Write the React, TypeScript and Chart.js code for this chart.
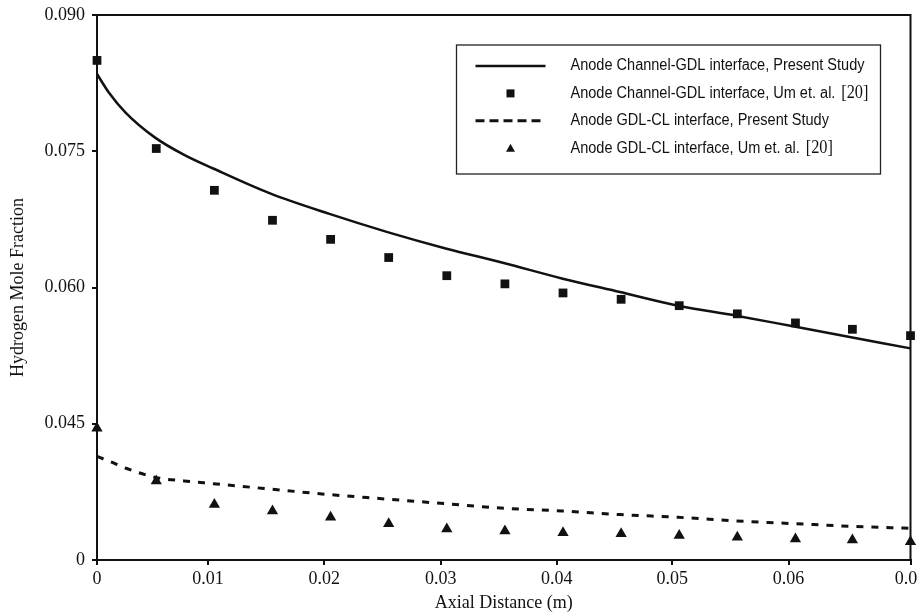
import React, { useEffect, useRef } from "react";
import { Chart, registerables } from "chart.js";

Chart.register(...registerables);

// ---- data ----
const modelX = [0, 0.001, 0.0025, 0.005, 0.0075, 0.01, 0.015, 0.02, 0.025, 0.03, 0.035, 0.04, 0.045, 0.05, 0.055, 0.06, 0.065, 0.07];
const channelModel = [0.0835, 0.0815, 0.0792, 0.0765, 0.0746, 0.0731, 0.0703, 0.0681, 0.0661, 0.0643, 0.0627, 0.061, 0.0595, 0.058, 0.0569, 0.0557, 0.0545, 0.0533];
const gdlModel = [0.0414, 0.0409, 0.0401, 0.0391, 0.0387, 0.0384, 0.0378, 0.0372, 0.0367, 0.0362, 0.0357, 0.0354, 0.035, 0.0347, 0.0343, 0.034, 0.0337, 0.0335];

const expX = [0, 0.0051, 0.0101, 0.0151, 0.0201, 0.0251, 0.0301, 0.0351, 0.0401, 0.0451, 0.0501, 0.0551, 0.0601, 0.065, 0.07];
const channelExp = [0.085, 0.0753, 0.0707, 0.0674, 0.0653, 0.0633, 0.0613, 0.0604, 0.0594, 0.0587, 0.058, 0.0571, 0.0561, 0.0554, 0.0547];
const gdlExp = [0.0445, 0.0387, 0.0361, 0.0354, 0.0347, 0.034, 0.0334, 0.0332, 0.033, 0.0329, 0.0327, 0.0325, 0.0323, 0.0322, 0.032];

// tick marks as they sit on the original axis (slightly left of the round values)
const xTickValues = [0, 0.00955, 0.01956, 0.02957, 0.03955, 0.0495, 0.05951, 0.07];
const xTickLabels = ["0", "0.01", "0.02", "0.03", "0.04", "0.05", "0.06", "0.07"];
const yTickLabels = ["0", "0.045", "0.060", "0.075", "0.090"];

const seriesLabels = [
  "Anode Channel-GDL interface, Present Study",
  "Anode Channel-GDL interface, Um et. al. [20]",
  "Anode GDL-CL interface, Present Study",
  "Anode GDL-CL interface, Um et. al. [20]",
];

const SERIF = '"Liberation Serif", "Times New Roman", serif';
const SANS = '"Liberation Sans", Arial, sans-serif';
const INK = "#111";

const pairs = (xs: number[], ys: number[]) => xs.map((x, i) => ({ x, y: ys[i] }));

const frameAndLegend = {
  id: "frameAndLegend",
  afterDraw(chart: any) {
    const { ctx, chartArea: a } = chart;
    ctx.save();
    // top and right frame
    ctx.strokeStyle = INK;
    ctx.lineWidth = 2;
    ctx.beginPath();
    ctx.moveTo(a.left, a.top);
    ctx.lineTo(a.right, a.top);
    ctx.lineTo(a.right, a.bottom);
    ctx.stroke();

    // legend box
    const bx = a.right - 454;
    const by = a.top + 30;
    const bw = 424;
    const bh = 129;
    ctx.fillStyle = "#fff";
    ctx.fillRect(bx, by, bw, bh);
    ctx.lineWidth = 1.3;
    ctx.strokeStyle = "#222";
    ctx.strokeRect(bx, by, bw, bh);

    ctx.font = `16px ${SANS}`;
    const refW = ctx.measureText(seriesLabels[0]).width;
    const sx = 294 / refW;

    chart.data.datasets.forEach((ds: any, i: number) => {
      const y = by + 21 + i * 27.4;
      const x0 = bx + 19;
      const x1 = bx + 89;
      const xc = (x0 + x1) / 2;
      ctx.fillStyle = INK;
      ctx.strokeStyle = INK;
      if (ds.showLine !== false) {
        ctx.setLineDash(ds.legendDash || []);
        ctx.lineWidth = ds.borderWidth;
        ctx.beginPath();
        ctx.moveTo(x0, y);
        ctx.lineTo(x1, y);
        ctx.stroke();
        ctx.setLineDash([]);
      } else if (ds.pointStyle === "rect") {
        ctx.fillRect(xc - 4, y - 4, 8, 8);
      } else {
        ctx.beginPath();
        ctx.moveTo(xc, y - 4.5);
        ctx.lineTo(xc + 4.5, y + 3.5);
        ctx.lineTo(xc - 4.5, y + 3.5);
        ctx.closePath();
        ctx.fill();
      }
      // label text
      const label: string = ds.label;
      const k = label.indexOf("[");
      const main = k >= 0 ? label.slice(0, k) : label;
      const ref = k >= 0 ? label.slice(k) : "";
      ctx.save();
      ctx.translate(bx + 114, y);
      ctx.scale(sx, 1);
      ctx.textBaseline = "middle";
      ctx.textAlign = "left";
      ctx.font = `16px ${SANS}`;
      ctx.fillText(main, 0, 0);
      if (ref) {
        const w = ctx.measureText(main).width;
        ctx.font = `18px ${SERIF}`;
        ctx.fillText(ref, w + 2, 0);
      }
      ctx.restore();
    });
    ctx.restore();
  },
};

export default function App() {
  const ref = useRef<HTMLCanvasElement | null>(null);
  useEffect(() => {
    if (!ref.current) return;
    const chart = new Chart(ref.current, {
      type: "scatter",
      data: {
        datasets: [
          {
            label: seriesLabels[0],
            data: pairs(modelX, channelModel),
            showLine: true,
            borderColor: INK,
            borderWidth: 2.5,
            pointRadius: 0,
            cubicInterpolationMode: "monotone",
            clip: false,
            order: 2,
          } as any,
          {
            label: seriesLabels[1],
            data: pairs(expX, channelExp),
            showLine: false,
            pointStyle: "rect",
            pointRadius: 6.2,
            backgroundColor: INK,
            borderWidth: 0,
            clip: false,
            order: 1,
          } as any,
          {
            label: seriesLabels[2],
            data: pairs(modelX, gdlModel),
            showLine: true,
            borderColor: INK,
            borderWidth: 3,
            borderDash: [7, 8],
            legendDash: [9, 5],
            pointRadius: 0,
            cubicInterpolationMode: "monotone",
            clip: false,
            order: 2,
          } as any,
          {
            label: seriesLabels[3],
            data: pairs(expX, gdlExp),
            showLine: false,
            pointStyle: "triangle",
            pointRadius: 6.5,
            backgroundColor: INK,
            borderWidth: 0,
            clip: false,
            order: 1,
          } as any,
        ],
      },
      options: {
        animation: false,
        responsive: false,
        layout: { padding: { top: 15, right: 4, left: 0, bottom: 0 } },
        plugins: {
          legend: { display: false },
          tooltip: { enabled: false },
        },
        scales: {
          x: {
            type: "linear",
            min: 0,
            max: 0.07,
            afterBuildTicks: (s: any) => {
              s.ticks = xTickValues.map((value) => ({ value }));
            },
            afterFit: (s: any) => {
              s.height = 52;
              s.paddingLeft = 0;
              s.paddingRight = 0;
            },
            ticks: {
              color: INK,
              padding: 3,
              maxRotation: 0,
              autoSkip: false,
              font: { family: SERIF, size: 18 },
              callback: (_v: any, i: number) => xTickLabels[i],
            },
            grid: { drawOnChartArea: false, tickLength: 5, color: INK, lineWidth: 2 },
            border: { color: INK, width: 2 },
            title: {
              display: true,
              text: "Axial Distance (m)",
              color: INK,
              font: { family: SERIF, size: 18, lineHeight: 1 },
              padding: { top: 0, bottom: 0 },
            },
          },
          y: {
            type: "linear",
            min: 0.03,
            max: 0.09,
            afterFit: (s: any) => {
              s.width = 97;
              s.paddingTop = 0;
              s.paddingBottom = 0;
            },
            ticks: {
              stepSize: 0.015,
              color: INK,
              padding: 7,
              font: { family: SERIF, size: 18 },
              callback: (_v: any, i: number) => yTickLabels[i],
            },
            grid: { drawOnChartArea: false, tickLength: 5, color: INK, lineWidth: 2 },
            border: { color: INK, width: 2 },
            title: {
              display: true,
              text: "Hydrogen Mole Fraction",
              color: INK,
              font: { family: SERIF, size: 18, lineHeight: 1 },
              padding: { top: 9.5, bottom: 0 },
            },
          },
        },
      },
      plugins: [frameAndLegend],
    });
    return () => chart.destroy();
  }, []);

  return (
    <div style={{ position: "absolute", left: 0, top: 0, width: 917, height: 612, background: "#fff" }}>
      <canvas ref={ref} width={917} height={612} style={{ display: "block" }} />
    </div>
  );
}
